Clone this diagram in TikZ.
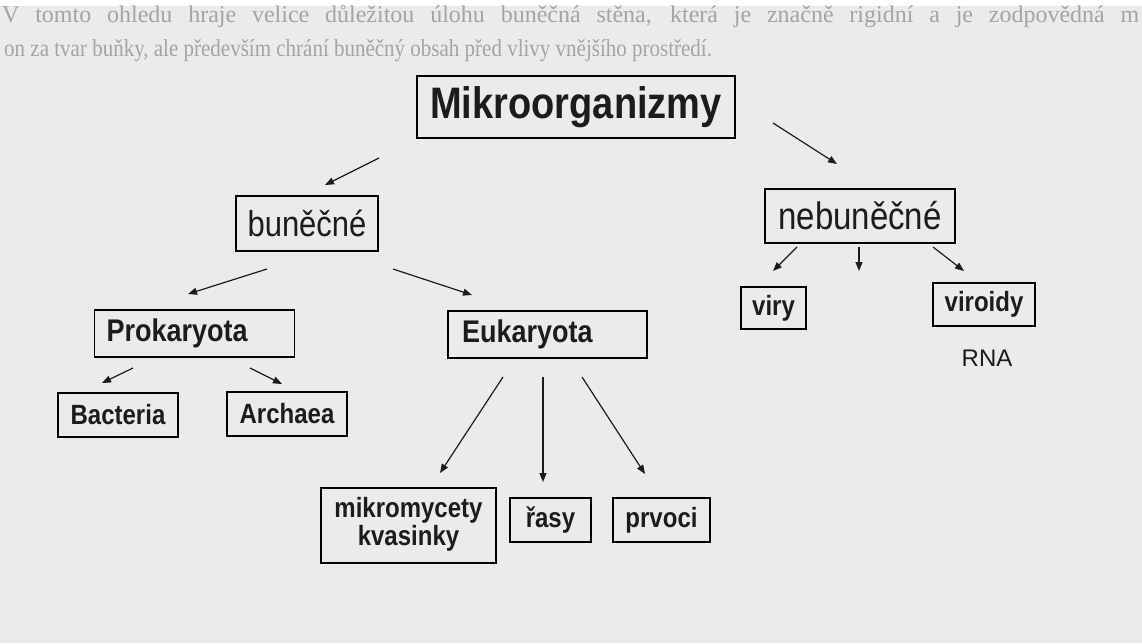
\documentclass[tikz,border=0pt]{standalone}
\usepackage{fontspec}
\setmainfont{Liberation Sans}
\newfontfamily\pageserif{Liberation Serif}
\usetikzlibrary{arrows.meta}
\definecolor{bgc}{HTML}{EBEBEB}
\definecolor{txt}{HTML}{1C1C1C}
\definecolor{ghost}{HTML}{A4A4A4}
\newcommand{\vstr}[1]{\scalebox{1}[1.16]{#1}}
\begin{document}
\begin{tikzpicture}[x=1pt,y=-1pt,
  box/.style={draw=black, line width=1.8pt, inner sep=0pt, text=txt, align=center},
  bsmall/.style={box, font=\bfseries\fontsize{24}{27}\selectfont},
  bmid/.style={box, font=\bfseries\fontsize{27}{30}\selectfont, align=left},
  arr/.style={line width=1.2pt, draw=txt, -{Triangle[length=9pt,width=7pt]}},
  pagetext/.style={anchor=base west, inner sep=0pt, text=ghost}]
\useasboundingbox (0,0) rectangle (1142,643);
\fill[bgc] (0,0) rectangle (1142,643);
\fill[white] (0,0) rectangle (1142,6);

% page text behind the diagram
\node[pagetext, font=\pageserif\fontsize{24}{28}\selectfont] (line1) at (2,22) {\makebox[1137pt][s]{V tomto ohledu hraje velice důležitou úlohu buněčná stěna, která je značně rigidní a je zodpovědná m}};
\node[pagetext, font=\pageserif\fontsize{21}{26}\selectfont] (line2) at (4,56) {\vstr{on za tvar buňky, ale především chrání buněčný obsah před vlivy vnějšího prostředí.}};

% boxes
\node[box, font=\bfseries\fontsize{38}{40}\selectfont, minimum width=318pt, minimum height=62pt] (mikro) at (576,107) {\vstr{Mikroorganizmy}};
\node[box, font=\fontsize{31}{34}\selectfont, minimum width=142pt, minimum height=55pt] (bun) at (307,223.5) {\vstr{buněčné}};
\node[box, font=\fontsize{33}{36}\selectfont, minimum width=190pt, minimum height=54pt] (nebun) at (860,216) {\vstr{nebuněčné}};
\node[bmid, text width=176pt, inner xsep=12pt, minimum height=47pt] (prok) at (194.5,333.5) {\vstr{Prokaryota}};
\node[bmid, text width=171pt, inner xsep=14pt, minimum height=47pt] (euk) at (547.5,334.5) {\vstr{Eukaryota}};
\node[bsmall, minimum width=120pt, minimum height=44pt] (bact) at (118,415) {\vstr{Bacteria}};
\node[bsmall, minimum width=120pt, minimum height=44pt] (arch) at (287,414) {\vstr{Archaea}};
\node[bsmall, minimum width=65pt, minimum height=42pt] (viry) at (773.5,308) {\vstr{viry}};
\node[bsmall, minimum width=102pt, minimum height=43pt] (viroidy) at (984,304.5) {\vstr{viroidy}};
\node[inner sep=0pt, text=txt, font=\fontsize{24}{27}\selectfont] (rna) at (987,358) {RNA};
\node[box, font=\bfseries\fontsize{24}{24}\selectfont, minimum width=175pt, minimum height=75pt] (mikrom) at (408.5,525.5) {\vstr{\begin{tabular}{@{}c@{}}mikromycety\\kvasinky\end{tabular}}};
\node[bsmall, minimum width=81pt, minimum height=44pt] (rasy) at (550.5,520) {\vstr{řasy}};
\node[bsmall, minimum width=97pt, minimum height=44pt] (prvoci) at (661.5,520) {\vstr{prvoci}};

% arrow end points
\coordinate (a1s) at (379,158); \coordinate (a1e) at (325,185);
\coordinate (a2s) at (773,123); \coordinate (a2e) at (837,164);
\coordinate (a3s) at (267,269); \coordinate (a3e) at (188,294);
\coordinate (a4s) at (393,269); \coordinate (a4e) at (472,295);
\coordinate (a5s) at (133,368); \coordinate (a5e) at (102,383);
\coordinate (a6s) at (250,368); \coordinate (a6e) at (282,384);
\coordinate (a7s) at (503,377); \coordinate (a7e) at (440,473);
\coordinate (a8s) at (543,377); \coordinate (a8e) at (543,482);
\coordinate (a9s) at (582,377); \coordinate (a9e) at (645,474);
\coordinate (b1s) at (797,247); \coordinate (b1e) at (773,271);
\coordinate (b2s) at (859,247); \coordinate (b2e) at (859,271);
\coordinate (b3s) at (933,247); \coordinate (b3e) at (964,271);

\draw[arr] (a1s) -- (a1e);
\draw[arr] (a2s) -- (a2e);
\draw[arr] (a3s) -- (a3e);
\draw[arr] (a4s) -- (a4e);
\draw[arr] (a5s) -- (a5e);
\draw[arr] (a6s) -- (a6e);
\draw[arr] (a7s) -- (a7e);
\draw[arr] (a8s) -- (a8e);
\draw[arr] (a9s) -- (a9e);
\draw[arr] (b1s) -- (b1e);
\draw[arr] (b2s) -- (b2e);
\draw[arr] (b3s) -- (b3e);
\end{tikzpicture}
\end{document}
